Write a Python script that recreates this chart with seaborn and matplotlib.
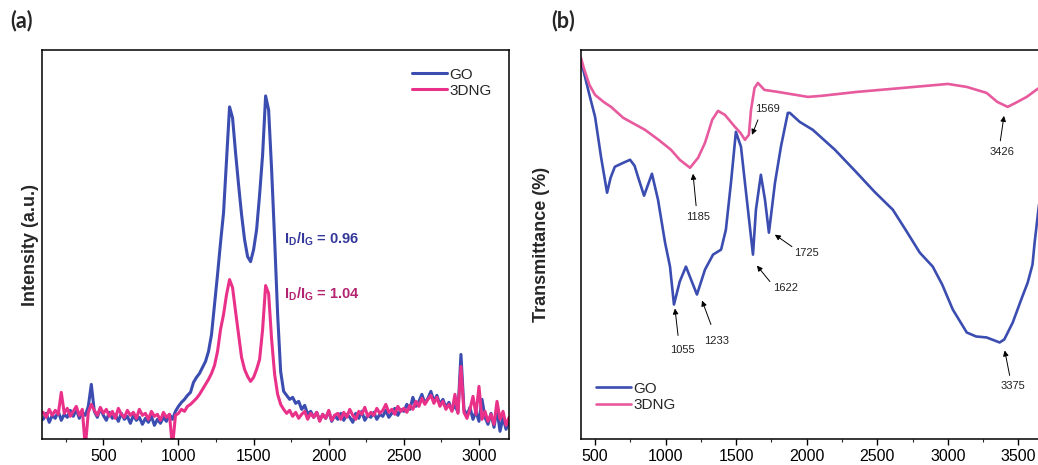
import numpy as np
import pandas as pd
import matplotlib
matplotlib.use("Agg")
import matplotlib.pyplot as plt
from matplotlib.ticker import MultipleLocator
import seaborn as sns

# ---------------- data ----------------
# (a) Raman spectra, Raman shift (cm-1)
raman_x = np.arange(100, 3201, 20)
raman_go = [20, 26, 17, 24, 21, 28, 19, 25, 22, 29,
            23, 30, 21, 27, 24, 33, 55, 28, 22, 31,
            24, 19, 27, 21, 25, 18, 26, 20, 23, 16,
            24, 19, 22, 15, 21, 17, 23, 14, 20, 16,
            22, 18, 25, 20, 28, 33, 37, 40, 44, 47,
            57, 62, 66, 72, 78, 88, 105, 135, 165, 197,
            227, 280, 333, 322, 287, 255, 225, 200, 183, 178,
            190, 210, 245, 285, 344, 330, 270, 200, 125, 68,
            48, 44, 40, 42, 36, 38, 30, 34, 25, 28,
            22, 27, 19, 25, 21, 28, 18, 24, 20, 26,
            19, 25, 22, 17, 26, 21, 28, 19, 24, 22,
            27, 20, 25, 23, 29, 22, 26, 31, 24, 30,
            28, 35, 30, 42, 33, 38, 45, 36, 41, 48,
            38, 44, 35, 40, 32, 37, 29, 34, 27, 85,
            30, 24, 32, 20, 28, 18, 40, 22, 15, 26,
            12, 30, 8, 22, 10, 18]
raman_3dng = [27, 22, 30, 24, 29, 25, 47, 26, 31, 23,
              28, 33, 24, 30, -8, 27, 35, 29, 24, 32,
              26, 30, 23, 28, 21, 31, 25, 22, 29, 24,
              27, 21, 30, 24, 26, 20, 28, 23, 25, 19,
              27, 22, 25, -8, 24, 26, 30, 28, 33, 35,
              38, 41, 45, 50, 55, 60, 66, 74, 88, 110,
              125, 145, 160, 152, 128, 105, 82, 70, 63, 58,
              62, 70, 80, 110, 154, 146, 100, 65, 45, 35,
              30, 26, 29, 23, 27, 21, 25, 28, 20, 26,
              22, 27, 18, 25, 21, 29, 19, 24, 26, 20,
              27, 22, 30, 24, 20, 28, 25, 32, 23, 27,
              24, 31, 26, 29, 35, 27, 30, 25, 33, 28,
              31, 27, 34, 30, 38, 33, 41, 35, 40, 44,
              36, 42, 33, 38, 30, 35, 28, 45, 26, 73,
              27, 21, 30, 43, 25, 53, 20, 28, 18, 25,
              15, 38, 20, 28, 14, 22]
ratio_labels = ["0.96", "1.04"]

# (b) FTIR spectra, wavenumber (cm-1)
ftir_go_x = [400, 420, 460, 500, 542, 585, 610, 640, 700, 748, 780, 804, 847, 903,
             946, 996, 1031, 1059, 1100, 1144, 1180, 1222, 1279, 1336, 1393, 1427,
             1463, 1498, 1534, 1570, 1619, 1640, 1675, 1704, 1732, 1775, 1817, 1866,
             1880, 1950, 2043, 2200, 2355, 2480, 2610, 2700, 2801, 2893, 2960, 3035,
             3134, 3200, 3275, 3367, 3400, 3460, 3520, 3566, 3600, 3615, 3650, 3700]
ftir_go_y = [378, 368, 345, 323, 283, 247, 262, 273, 277, 280, 274, 263, 244, 266,
             240, 197, 173, 135, 158, 173, 160, 145, 170, 185, 190, 210,
             257, 308, 293, 247, 185, 230, 265, 240, 207, 257, 293, 327,
             327, 318, 310, 290, 267, 248, 230, 210, 187, 173, 155, 130,
             107, 103, 102, 97, 100, 117, 140, 157, 175, 197, 240, 290]
ftir_3dng_x = [400, 420, 460, 500, 560, 613, 700, 854, 950, 1038, 1100, 1173, 1230,
               1279, 1330, 1371, 1420, 1491, 1530, 1562, 1590, 1605, 1630, 1654, 1700,
               1796, 2008, 2100, 2355, 2600, 2921, 3000, 3134, 3275, 3350, 3424, 3480,
               3559, 3636, 3700]
ftir_3dng_y = [382, 372, 355, 345, 338, 333, 322, 310, 300, 290, 280, 272, 282,
               297, 320, 329, 325, 313, 307, 300, 305, 330, 352, 357, 350,
               348, 343, 344, 348, 351, 355, 356, 353, 347, 338, 333, 337,
               343, 351, 356]
go_peaks = ["1055", "1233", "1622", "1725", "3375"]
dng_peaks = ["1185", "1569", "3426"]

# ---------------- style ----------------
sns.set_theme(style="ticks")
plt.rcParams["font.family"] = ["Liberation Sans", "DejaVu Sans"]
plt.rcParams["mathtext.fontset"] = "custom"
plt.rcParams["mathtext.rm"] = "Liberation Sans"
plt.rcParams["mathtext.bf"] = "Liberation Sans:bold"

BLUE = "#3B4DB0"
PINK_A = "#EA3189"
PINK_B = "#E85A9E"

fig = plt.figure(figsize=(10.38, 4.65), dpi=100)
axA = fig.add_axes([0.0402, 0.0553, 0.4502, 0.8372])
axB = fig.add_axes([0.5597, 0.0553, 0.4486, 0.8372])

# ---- panel (a)
dfA = pd.DataFrame({"x": raman_x, "GO": raman_go, "3DNG": raman_3dng})
sns.lineplot(data=dfA, x="x", y="GO", ax=axA, color=BLUE, lw=2.2,
             estimator=None, sort=False, label="GO")
sns.lineplot(data=dfA, x="x", y="3DNG", ax=axA, color=PINK_A, lw=2.2,
             estimator=None, sort=False, label="3DNG")
axA.set_xlim(90, 3200)
axA.set_ylim(0, 390)
axA.set_xlabel("")
axA.set_ylabel("Intensity (a.u.)", fontsize=13, fontweight="bold", labelpad=2)
axA.set_yticks([])
axA.xaxis.set_major_locator(MultipleLocator(500))
axA.xaxis.set_minor_locator(MultipleLocator(250))
axA.legend(loc="upper left", bbox_to_anchor=(0.792, 0.955), frameon=False,
           handlelength=2.3, handletextpad=0.15, labelspacing=0.15,
           borderpad=0, borderaxespad=0, fontsize=11)
axA.text(1700, 200, r"I$_\mathbf{D}$/I$_\mathbf{G}$ = " + ratio_labels[0],
         color="#34389A", fontsize=10.5, fontweight="bold", va="center")
axA.text(1700, 145, r"I$_\mathbf{D}$/I$_\mathbf{G}$ = " + ratio_labels[1],
         color="#B42370", fontsize=10.5, fontweight="bold", va="center")

# ---- panel (b)
dfG = pd.DataFrame({"x": ftir_go_x, "y": ftir_go_y})
dfD = pd.DataFrame({"x": ftir_3dng_x, "y": ftir_3dng_y})
sns.lineplot(data=dfG, x="x", y="y", ax=axB, color=BLUE, lw=1.9,
             estimator=None, sort=False, label="GO")
sns.lineplot(data=dfD, x="x", y="y", ax=axB, color=PINK_B, lw=1.9,
             estimator=None, sort=False, label="3DNG")
axB.set_xlim(400, 3700)
axB.set_ylim(0, 390)
axB.set_xlabel("")
axB.set_ylabel("Transmittance (%)", fontsize=13, fontweight="bold", labelpad=22)
axB.set_yticks([])
axB.xaxis.set_major_locator(MultipleLocator(500))
axB.xaxis.set_minor_locator(MultipleLocator(250))
axB.legend(loc="upper left", bbox_to_anchor=(0.032, 0.148), frameon=False,
           handlelength=2.3, handletextpad=0.15, labelspacing=0.15,
           borderpad=0, borderaxespad=0, fontsize=11)

# peak annotations: (label, text xy, arrow tail, arrow tip)
ann = [
    (go_peaks[0], (1116, 89), (1088, 104), (1066, 131)),
    (go_peaks[1], (1364, 98), (1321, 115), (1258, 139)),
    (go_peaks[2], (1852, 152), (1739, 158), (1647, 174)),
    (go_peaks[3], (2001, 187), (1895, 193), (1774, 205)),
    (go_peaks[4], (3459, 53), (3438, 64), (3403, 89)),
    (dng_peaks[0], (1229, 223), (1216, 234), (1194, 266)),
    (dng_peaks[1], (1725, 331), (1654, 320), (1612, 305)),
    (dng_peaks[2], (3382, 288), (3372, 299), (3398, 324)),
]
for lab, txy, tail, tip in ann:
    axB.text(txy[0], txy[1], lab, fontsize=8, ha="center", va="center", color="#222222")
    axB.annotate("", xy=tip, xytext=tail,
                 arrowprops=dict(arrowstyle="-|>", color="black", lw=0.7,
                                 mutation_scale=8, shrinkA=0, shrinkB=0))

for ax in (axA, axB):
    for s in ax.spines.values():
        s.set_visible(True)
        s.set_linewidth(1.1)
        s.set_color("black")
    ax.tick_params(axis="x", which="major", direction="out", length=4, width=1,
                   labelsize=11.5, pad=3, color="black", labelcolor="black")
    ax.tick_params(axis="x", which="minor", direction="out", length=2.5, width=0.8)
    ax.set_facecolor("white")

fig.text(0.0095, 0.955, "(a)", fontsize=15.5, fontweight="bold", family=["Lato", "DejaVu Sans"], va="center")
fig.text(0.531, 0.955, "(b)", fontsize=15.5, fontweight="bold", family=["Lato", "DejaVu Sans"], va="center")

fig.savefig("out.png", dpi=100, facecolor="white")
